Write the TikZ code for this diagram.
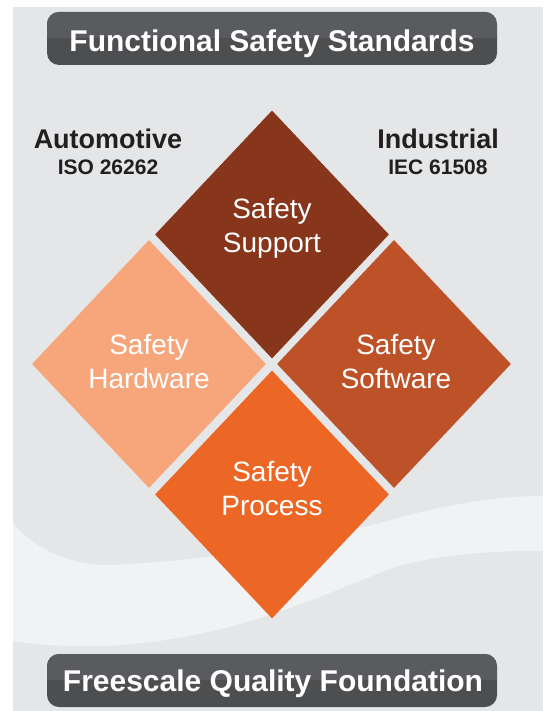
\documentclass[tikz,border=0pt]{standalone}
\usepackage{fontspec}
\setmainfont{Liberation Sans}
\usetikzlibrary{shapes.geometric}

\definecolor{fondo}{HTML}{E5E6E8}
\definecolor{onda}{HTML}{F1F2F4}
\definecolor{barra}{HTML}{4D4E50}
\definecolor{brillo}{HTML}{5A5B5E}
\definecolor{soporte}{HTML}{87351B}
\definecolor{hardware}{HTML}{F7A67B}
\definecolor{software}{HTML}{BD5229}
\definecolor{proceso}{HTML}{EC6725}
\definecolor{texto}{HTML}{231F20}

\tikzset{
  rombo/.style={diamond, minimum width=234pt, minimum height=248pt, inner sep=0pt},
  etiqueta/.style={text=white, align=center, font=\fontsize{28}{34}\selectfont},
  titulo/.style={text=white, anchor=base, font=\fontsize{30}{36}\selectfont\bfseries},
  norma/.style={text=texto, anchor=base, font=\fontsize{27}{32}\selectfont\bfseries},
  codigo/.style={text=texto, anchor=base, font=\fontsize{21}{25}\selectfont\bfseries}
}

\begin{document}
\begin{tikzpicture}[x=1pt, y=-1pt]
        \useasboundingbox (0,0) rectangle (543,711);

        % Fondo y onda clara
        \fill[fondo] (13,7) rectangle (543,711);
        \fill[onda] (13,523) .. controls (40,555) and (80,565) .. (106,565)
            .. controls (200,562) and (300,545) .. (387,521)
            .. controls (450,503) and (500,496) .. (543,496)
            -- (543,551) .. controls (480,550) and (420,558) .. (387,570)
            .. controls (320,596) and (230,640) .. (106,646)
            .. controls (60,647) and (30,644) .. (13,641) -- cycle;

        % Barras superior e inferior
        \fill[barra, rounded corners=12pt] (47,12) rectangle (497,65);
        \begin{scope}
            \clip[rounded corners=12pt] (47,12) rectangle (497,65);
            \fill[brillo] (47,12) rectangle (497,38);
        \end{scope}
        \node[titulo] (tit) at (272,52) {Functional Safety Standards};

        \fill[barra, rounded corners=12pt] (47,654) rectangle (497,707);
        \begin{scope}
            \clip[rounded corners=12pt] (47,654) rectangle (497,707);
            \fill[brillo] (47,654) rectangle (497,680);
        \end{scope}
        \node[titulo] (pie) at (273,691) {Freescale Quality Foundation};

        % Normas
        \node[norma] (auto) at (108,149) {Automotive};
        \node[codigo] (iso) at (108,175) {ISO 26262};
        \node[norma] (ind) at (438,149) {Industrial};
        \node[codigo] (iec) at (438,175) {IEC 61508};

        % Rombos
        \node[rombo, fill=soporte] (sup) at (272,234.5) {};
        \node[rombo, fill=hardware] (hw) at (149,364) {};
        \node[rombo, fill=software] (sw) at (394,364) {};
        \node[rombo, fill=proceso] (pro) at (272,494.5) {};

        \node[etiqueta] (supt) at (272,228) {Safety\\Support};
        \node[etiqueta] (hwt) at (149,362) {Safety\\Hardware};
        \node[etiqueta] (swt) at (396,362) {Safety\\Software};
        \node[etiqueta] (prot) at (272,489) {Safety\\Process};
    \end{tikzpicture}
\end{document}
